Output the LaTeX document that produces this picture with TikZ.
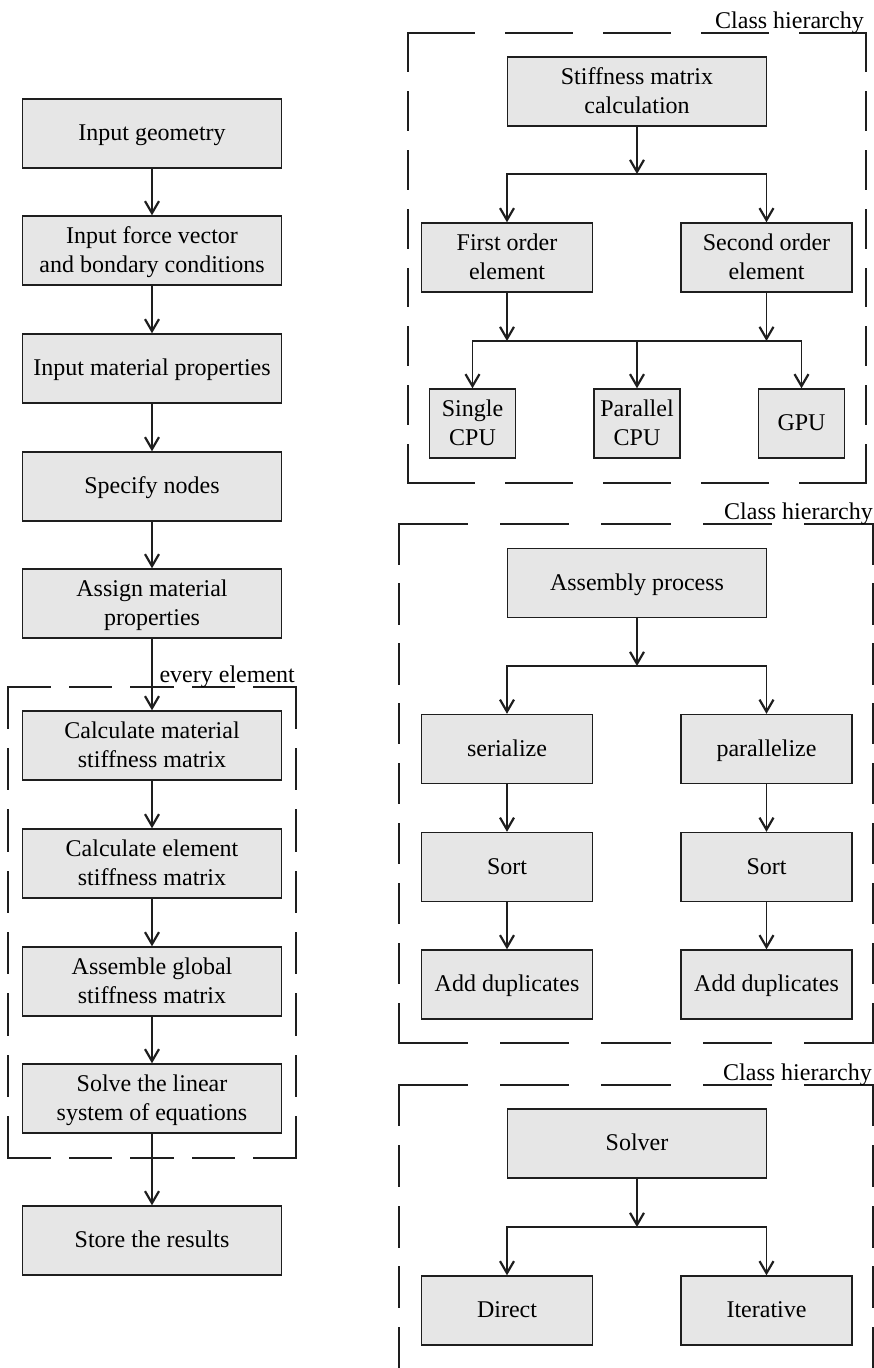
\documentclass[tikz,border=0pt]{standalone}
\usepackage{fontspec}
\setmainfont{Liberation Serif}
\usetikzlibrary{arrows.meta}
\definecolor{ink}{HTML}{1E1E1E}
\definecolor{boxgray}{HTML}{E6E6E6}
% line strut: keeps every text line the same height so boxes centre alike
\newcommand\lnstrut{\rule[-7.3pt]{0pt}{29pt}}

\begin{document}
\begin{tikzpicture}[x=1pt,y=-1pt,
  proc/.style={draw=ink, fill=boxgray, line width=1.4pt, minimum height=69pt,
    inner sep=0pt, align=center, font=\fontsize{24}{29}\selectfont},
  wide/.style={proc, minimum width=259pt},
  mid/.style={proc, minimum width=171pt},
  narrow/.style={proc, minimum width=86pt},
  link/.style={draw=ink, line width=1.4pt,
    -{Straight Barb[length=12pt,width=14pt,line width=2.2pt]}},
  frame/.style={draw=ink, line width=1.4pt, line cap=rect},
  tag/.style={inner sep=0pt, font=\fontsize{24}{29}\selectfont, anchor=base east}
]
\useasboundingbox (0,0) rectangle (874,1368);

% ---------- main flow (left column) ----------
\node[wide] (geo)     at (152,133.5)  {\lnstrut Input geometry};
\node[wide] (force)   at (152,250.5)  {\lnstrut Input force vector\\\lnstrut and bondary conditions};
\node[wide] (mat)     at (152,368.5)  {\lnstrut Input material properties};
\node[wide] (spec)    at (152,486.5)  {\lnstrut Specify nodes};
\node[wide] (assign)  at (152,603.5)  {\lnstrut Assign material\\\lnstrut properties};
\node[wide] (calcmat) at (152,745.5)  {\lnstrut Calculate material\\\lnstrut stiffness matrix};
\node[wide] (calcel)  at (152,863.5)  {\lnstrut Calculate element\\\lnstrut stiffness matrix};
\node[wide] (asmglob) at (152,981.5)  {\lnstrut Assemble global\\\lnstrut stiffness matrix};
\node[wide] (solve)   at (152,1098.5) {\lnstrut Solve the linear\\\lnstrut system of equations};
\node[wide] (store)   at (152,1240.5) {\lnstrut Store the results};

% loop frame
\draw[frame, dash pattern=on 42pt off 19.5pt] (8,687) -- (296,687);
\draw[frame, dash pattern=on 42pt off 19.5pt] (8,1158) -- (296,1158);
\draw[frame, dash pattern=on 41pt off 20.4pt] (8,687) -- (8,1158);
\draw[frame, dash pattern=on 41pt off 20.4pt] (296,687) -- (296,1158);
\node[tag] (every) at (295,682) {every element};

\draw[link] (geo) -- (force);
\draw[link] (force) -- (mat);
\draw[link] (mat) -- (spec);
\draw[link] (spec) -- (assign);
\draw[link] (assign) -- (calcmat);
\draw[link] (calcmat) -- (calcel);
\draw[link] (calcel) -- (asmglob);
\draw[link] (asmglob) -- (solve);
\draw[link] (solve) -- (store);

% ---------- stiffness matrix class hierarchy ----------
\draw[frame, dash pattern=on 66pt off 32pt] (408,33) -- (866,33);
\draw[frame, dash pattern=on 66pt off 32pt] (408,483) -- (866,483);
\draw[frame, dash pattern=on 38.5pt off 20.3pt] (408,33) -- (408,483);
\draw[frame, dash pattern=on 38.5pt off 20.3pt] (866,33) -- (866,483);
\node[tag] (lab1) at (864,28) {Class hierarchy};

\node[wide]   (smc)  at (637,91.5)  {\lnstrut Stiffness matrix\\\lnstrut calculation};
\node[mid]    (foe)  at (507,257.5) {\lnstrut First order\\\lnstrut element};
\node[mid]    (soe)  at (766.5,257.5) {\lnstrut Second order\\\lnstrut element};
\node[narrow] (scpu) at (472.5,423.5) {\lnstrut Single\\\lnstrut CPU};
\node[narrow] (pcpu) at (637,423.5) {\lnstrut Parallel\\\lnstrut CPU};
\node[narrow] (gpu)  at (801.5,423.5) {\lnstrut GPU};

\coordinate (j1) at (637,174);
\coordinate (j2) at (637,341);
\draw[link] (smc) -- (j1);
\draw[link] (j1) -| (foe);
\draw[link] (j1) -| (soe);
\draw[link] (foe) -- (foe |- j2);
\draw[link] (soe) -- (soe |- j2);
\draw[link] (j2) -| (scpu);
\draw[link] (j2) -- (pcpu);
\draw[link] (j2) -| (gpu);

% ---------- assembly class hierarchy ----------
\draw[frame, dash pattern=on 68pt off 33.5pt] (399,524) -- (873,524);
\draw[frame, dash pattern=on 68pt off 33.5pt] (399,1043) -- (873,1043);
\draw[frame, dash pattern=on 40pt off 19.9pt] (399,524) -- (399,1043);
\draw[frame, dash pattern=on 40pt off 19.9pt] (873,524) -- (873,1043);
\node[tag] (lab2) at (873,519) {Class hierarchy};

\node[wide] (asm)   at (637,583)     {\lnstrut Assembly process};
\node[mid]  (ser)   at (507,749)     {\lnstrut serialize};
\node[mid]  (par)   at (766.5,749)   {\lnstrut parallelize};
\node[mid]  (sorta) at (507,867)     {\lnstrut Sort};
\node[mid]  (sortb) at (766.5,867)   {\lnstrut Sort};
\node[mid]  (adda)  at (507,984.5)   {\lnstrut Add duplicates};
\node[mid]  (addb)  at (766.5,984.5) {\lnstrut Add duplicates};

\coordinate (j3) at (637,666);
\draw[link] (asm) -- (j3);
\draw[link] (j3) -| (ser);
\draw[link] (j3) -| (par);
\draw[link] (ser) -- (sorta);
\draw[link] (par) -- (sortb);
\draw[link] (sorta) -- (adda);
\draw[link] (sortb) -- (addb);

% ---------- solver class hierarchy ----------
\draw[frame, dash pattern=on 68pt off 33.5pt] (399,1085) -- (873,1085);
\draw[frame, dash pattern=on 40.5pt off 20.2pt] (399,1085) -- (399,1368);
\draw[frame, dash pattern=on 40.5pt off 20.2pt] (873,1085) -- (873,1368);
\node[tag] (lab3) at (872,1080) {Class hierarchy};

\node[wide] (solver) at (637,1143.5)   {\lnstrut Solver};
\node[mid]  (direct) at (507,1310.5)   {\lnstrut Direct};
\node[mid]  (iter)   at (766.5,1310.5) {\lnstrut Iterative};

\coordinate (j4) at (637,1227);
\draw[link] (solver) -- (j4);
\draw[link] (j4) -| (direct);
\draw[link] (j4) -| (iter);
\end{tikzpicture}
\end{document}
